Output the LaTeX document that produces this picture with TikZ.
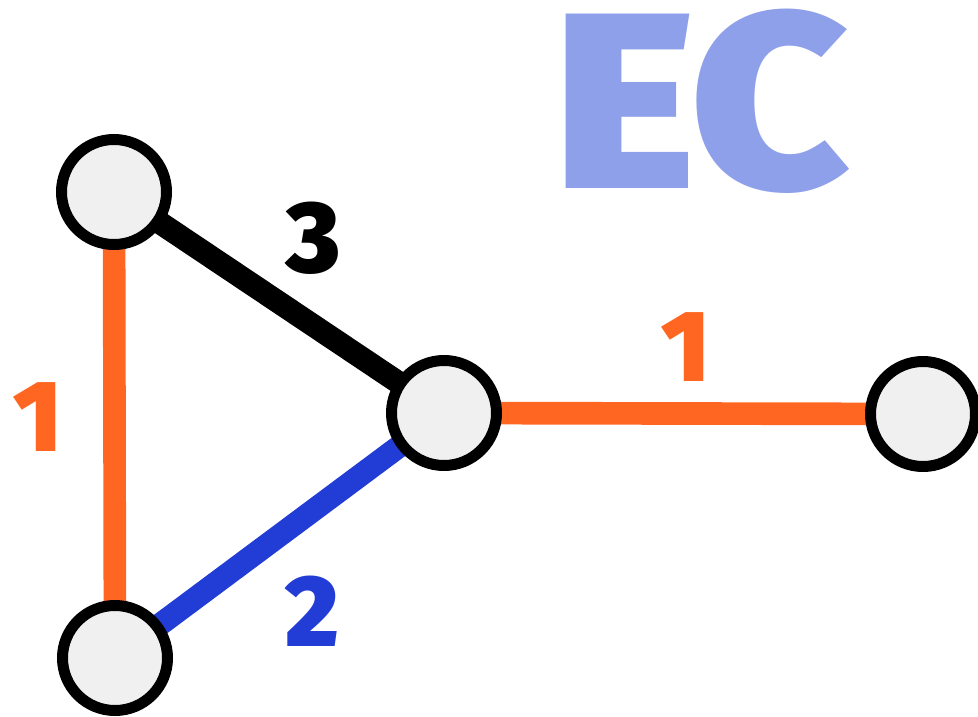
\documentclass[tikz,border=0pt]{standalone}
\usepackage{fontspec}
\setmainfont{Fira Sans}[BoldFont={Fira Sans Black}]
\definecolor{eorange}{RGB}{255,102,34}
\definecolor{eblue}{RGB}{34,60,214}
\definecolor{ecblue}{RGB}{143,160,234}
\definecolor{nodefill}{RGB}{240,240,240}
\begin{document}
\begin{tikzpicture}[x=0.75pt,y=-0.75pt,
  vertex/.style={circle,draw=black,fill=nodefill,line width=8.25pt,minimum size=78.75pt,inner sep=0pt},
  edge/.style={line width=17pt},
  wlabel/.style={font=\fontsize{76}{80}\selectfont\bfseries,inner sep=0pt,anchor=center}]
\useasboundingbox (0,0) rectangle (978,717);
\coordinate (pa) at (114,192);
\coordinate (pb) at (115,658);
\coordinate (pc) at (444,413);
\coordinate (pd) at (923,414);
\draw[edge,black] (pa) -- (pc);
\draw[edge,eorange] (pa) -- (pb);
\draw[edge,eblue] (pb) -- (pc);
\draw[edge,eorange] (pc) -- (pd);
\node[vertex] (a) at (pa) {};
\node[vertex] (b) at (pb) {};
\node[vertex] (c) at (pc) {};
\node[vertex] (d) at (pd) {};
\node[wlabel,text=black] (l3) at (313,238) {3};
\node[wlabel,text=eorange] (l1a) at (38,417) {1};
\node[wlabel,text=eblue] (l2) at (312,611) {2};
\node[wlabel,text=eorange] (l1b) at (686,347) {1};
\node[font=\fontsize{188}{190}\selectfont\bfseries,text=ecblue,inner sep=0pt,xscale=1.08] (ec) at (702,101) {EC};
\end{tikzpicture}
\end{document}
